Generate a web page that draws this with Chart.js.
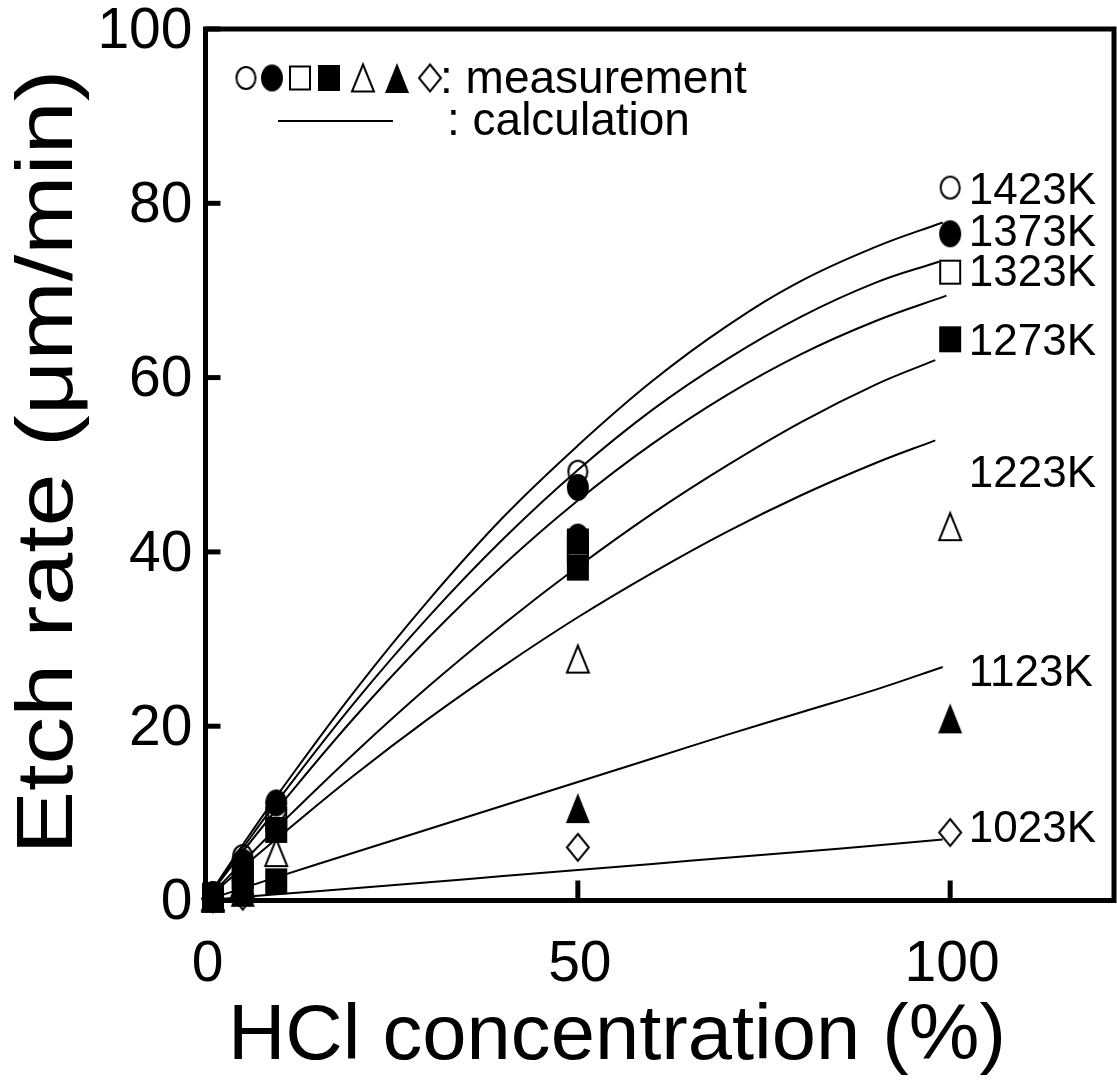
<!DOCTYPE html>
<html><head><meta charset="utf-8">
<script src="https://cdn.jsdelivr.net/npm/chart.js@4.4.1/dist/chart.umd.min.js"></script>
<style>html,body{margin:0;padding:0;background:#fff;overflow:hidden}#wrap{width:1117px;height:1084px}</style>
</head><body><div id="wrap"><canvas id="c" width="1117" height="1084"></canvas></div>
<script>
// ---------- DATA ----------
const seriesNames = ['1423K','1373K','1323K','1273K','1223K','1123K','1023K'];
const xTicks = [0, 50, 100];
const yTicks = [0, 20, 40, 60, 80, 100];
const xTitle = 'HCl concentration (%)';
const yTitle = 'Etch rate (μm/min)';

// measurements (HCl %, etch rate um/min)
const m1423X = [1, 5, 9.5, 50, 100];
const m1423Y = [0.8, 5.1, 10.4, 49.2, 81.8];
const m1373X = [1, 5, 9.5, 50, 50, 100];
const m1373Y = [0.7, 4.4, 11.2, 47.4, 41.7, 76.5];
const m1323X = [1, 5, 9.5, 50, 100];
const m1323Y = [0.6, 3.6, 9.3, 40.0, 72.1];
const m1273X = [1, 5, 5, 9.5, 9.5, 50, 50, 100];
const m1273Y = [0.5, 2.8, 1.2, 8.1, 2.2, 41.2, 38.2, 64.4];
const m1223X = [1, 5, 9.5, 50, 100];
const m1223Y = [0.4, 2.0, 5.5, 27.7, 42.9];
const m1123X = [1, 5, 50, 100];
const m1123Y = [0.3, 1.0, 10.6, 20.9];
const m1023X = [1, 5, 50, 100];
const m1023Y = [0.2, 0.5, 6.1, 7.8];

// calculation curves
const cX1423 = [0, 5, 10, 20, 30, 40, 50, 60, 70, 80, 90, 99];
const cY1423 = [0, 6.4, 12.5, 24.0, 34.5, 44.0, 52.2, 59.6, 65.9, 71.1, 75.0, 77.8];
const cX1373 = [0, 5, 10, 20, 30, 40, 50, 60, 70, 80, 90, 98.5];
const cY1373 = [0, 6.0, 11.8, 22.7, 32.6, 41.5, 49.4, 56.3, 62.1, 67.0, 70.9, 73.3];
const cX1323 = [0, 5, 10, 20, 30, 40, 50, 60, 70, 80, 90, 99.5];
const cY1323 = [0, 5.6, 10.9, 21.0, 30.2, 38.5, 45.9, 52.4, 58.0, 62.7, 66.5, 69.4];
const cX1273 = [0, 5, 10, 20, 30, 40, 50, 60, 70, 80, 90, 98];
const cY1273 = [0, 4.4, 8.7, 16.9, 24.6, 31.7, 38.3, 44.4, 49.9, 54.9, 59.2, 62.0];
const cX1223 = [0, 5, 10, 20, 30, 40, 50, 60, 70, 80, 90, 98];
const cY1223 = [0, 3.8, 7.4, 14.4, 20.9, 26.9, 32.5, 37.6, 42.3, 46.5, 50.2, 52.8];
const cX1123 = [0, 5, 10, 20, 30, 40, 50, 60, 70, 80, 90, 99];
const cY1123 = [0, 1.4, 2.8, 5.5, 8.2, 10.9, 13.6, 16.3, 19.0, 21.6, 24.2, 26.8];
const cX1023 = [0, 5, 10, 20, 30, 40, 50, 60, 70, 80, 90, 99];
const cY1023 = [0, 0.4, 0.75, 1.4, 2.1, 2.8, 3.5, 4.2, 4.9, 5.6, 6.3, 7.0];

// ---------- RENDER ----------
const FONT = "'Liberation Sans', Arial, Helvetica, sans-serif";
function pts(xs, ys){ return xs.map((x,i)=>({x:x, y:ys[i]})); }

function mk(kind, filled, W, H){
  const lw = 2, pad = 2;
  const c = document.createElement('canvas');
  c.width = Math.ceil(W + pad*2); c.height = Math.ceil(H + pad*2);
  const g = c.getContext('2d');
  const cx = c.width/2, cy = c.height/2;
  const w = filled ? W : W - lw, h = filled ? H : H - lw;
  g.beginPath();
  if (kind === 'circle') g.ellipse(cx, cy, w/2, h/2, 0, 0, Math.PI*2);
  else if (kind === 'square') g.rect(cx-w/2, cy-h/2, w, h);
  else if (kind === 'triangle') { g.moveTo(cx, cy-h/2); g.lineTo(cx+w/2, cy+h/2); g.lineTo(cx-w/2, cy+h/2); g.closePath(); }
  else if (kind === 'diamond') { g.moveTo(cx, cy-h/2); g.lineTo(cx+w/2, cy); g.lineTo(cx, cy+h/2); g.lineTo(cx-w/2, cy); g.closePath(); }
  if (filled) { g.fillStyle = '#000'; g.fill(); }
  else { g.lineWidth = lw; g.strokeStyle = '#000'; g.lineJoin='miter'; g.stroke(); }
  return c;
}
const markers = [
  mk('circle', false, 21, 24),
  mk('circle', true, 22, 27),
  mk('square', false, 22, 25),
  mk('square', true, 22, 26),
  mk('triangle', false, 24, 29),
  mk('triangle', true, 24, 30),
  mk('diamond', false, 24, 29)
];

const measX = [m1423X, m1373X, m1323X, m1273X, m1223X, m1123X, m1023X];
const measY = [m1423Y, m1373Y, m1323Y, m1273Y, m1223Y, m1123Y, m1023Y];
const calcX = [cX1423, cX1373, cX1323, cX1273, cX1223, cX1123, cX1023];
const calcY = [cY1423, cY1373, cY1323, cY1273, cY1223, cY1123, cY1023];
const filledIdx = [false, true, false, true, false, true, false];

const datasets = [];
seriesNames.forEach((n, i) => {
  datasets.push({
    type: 'scatter', label: n + ' measurement', data: pts(measX[i], measY[i]),
    pointStyle: markers[i], pointRadius: 12, pointHoverRadius: 12,
    showLine: false, clip: false, order: filledIdx[i] ? 1 : 5
  });
});
seriesNames.forEach((n, i) => {
  datasets.push({
    type: 'line', label: n + ' calculation', data: pts(calcX[i], calcY[i]),
    borderColor: '#000', borderWidth: 2, pointRadius: 0, fill: false,
    tension: 0.4, order: 10
  });
});

// label anchors (data units) for temperature labels
const labelAnchorX = 102.5;
const labelAnchorY = [81.8, 76.9, 72.3, 64.4, 49.3, 26.4, 8.6];

const decor = {
  id: 'decor',
  afterDatasetsDraw(chart) {
    const {ctx, chartArea: a, scales: {x, y}} = chart;
    ctx.save();
    ctx.strokeStyle = '#000';
    ctx.lineWidth = 5;
    ctx.strokeRect(a.left, a.top, a.right - a.left, a.bottom - a.top);
    // inward ticks
    yTicks.forEach(v => { const py = y.getPixelForValue(v); ctx.beginPath(); ctx.moveTo(a.left, py); ctx.lineTo(a.left + 15, py); ctx.stroke(); });
    xTicks.forEach(v => { const px = x.getPixelForValue(v); ctx.beginPath(); ctx.moveTo(px, a.bottom); ctx.lineTo(px, a.bottom - 20); ctx.stroke(); });
    // temperature labels
    ctx.fillStyle = '#000';
    ctx.font = '44px ' + FONT;
    ctx.textAlign = 'left'; ctx.textBaseline = 'alphabetic';
    seriesNames.forEach((n, i) => {
      ctx.fillText(n, x.getPixelForValue(labelAnchorX), y.getPixelForValue(labelAnchorY[i]) + 16);
    });
    // legend
    const lx = [246, 272, 300, 329, 363, 397, 430];
    markers.forEach((m, i) => ctx.drawImage(m, lx[i] - m.width/2, 78 - m.height/2));
    ctx.font = '46px ' + FONT;
    ctx.fillText(': measurement', 440, 93);
    ctx.fillText(': calculation', 447, 135);
    ctx.lineWidth = 2;
    ctx.beginPath(); ctx.moveTo(278, 121); ctx.lineTo(393, 121); ctx.stroke();
    // axis titles
    ctx.textAlign = 'center';
    ctx.save();
    ctx.translate(617, 1059);
    ctx.scale(1.02, 1);
    ctx.font = '78px ' + FONT;
    ctx.fillText(xTitle, 0, 0);
    ctx.restore();
    ctx.save();
    ctx.translate(72, 462);
    ctx.rotate(-Math.PI / 2);
    ctx.scale(1.19, 1);
    ctx.font = '80px ' + FONT;
    ctx.fillText(yTitle, 0, 0);
    ctx.restore();
    ctx.restore();
  }
};

new Chart(document.getElementById('c'), {
  data: { datasets },
  options: {
    responsive: false, animation: false, devicePixelRatio: 1,
    layout: { autoPadding: false, padding: { top: 29, right: 3, left: 0, bottom: 0 } },
    plugins: { legend: { display: false }, tooltip: { enabled: false } },
    scales: {
      x: {
        type: 'linear', min: 0, max: 122,
        afterFit(s) { s.height = 183.5; s.paddingLeft = 0; s.paddingRight = 0; },
        afterBuildTicks(s) { s.ticks = xTicks.map(v => ({value: v})); },
        ticks: { font: { family: FONT, size: 57 }, color: '#000', padding: 31, maxRotation: 0, autoSkip: false, labelOffset: 2 },
        grid: { display: false, drawTicks: false }, border: { display: false },
        title: { display: false, text: xTitle }
      },
      y: {
        type: 'linear', min: 0, max: 100,
        afterFit(s) { s.width = 205.5; s.paddingTop = 0; s.paddingBottom = 0; },
        afterBuildTicks(s) { s.ticks = yTicks.map(v => ({value: v})); },
        ticks: { font: { family: FONT, size: 57 }, color: '#000', padding: 13, autoSkip: false, labelOffset: 3 },
        grid: { display: false, drawTicks: false }, border: { display: false },
        title: { display: false, text: yTitle }
      }
    }
  },
  plugins: [decor]
});
</script></body></html>
